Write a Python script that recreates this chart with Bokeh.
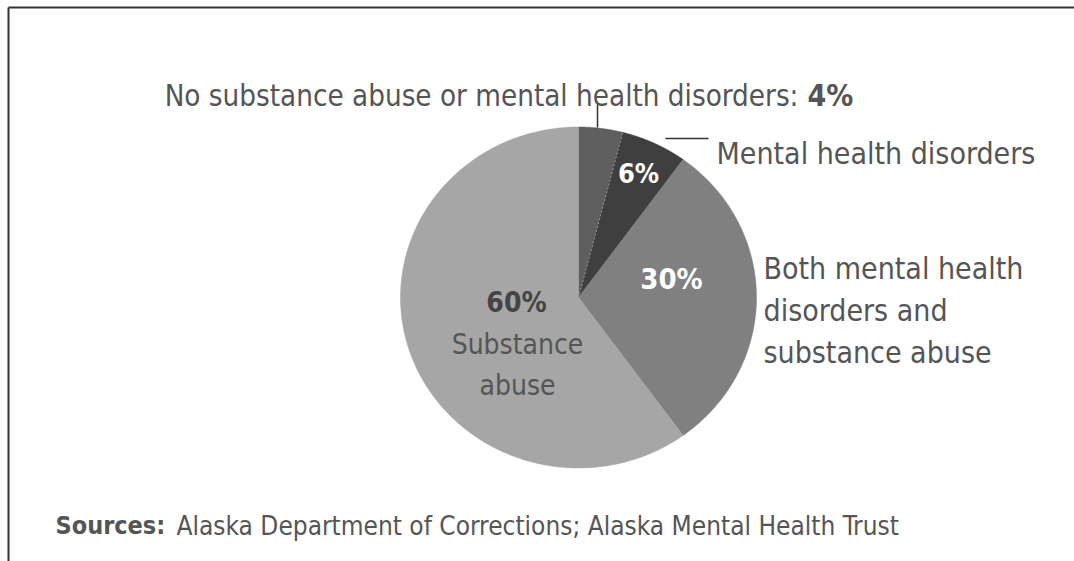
import numpy as np
from bokeh.plotting import figure
from bokeh.models import ColumnDataSource, Range1d
from bokeh.core.properties import value
from bokeh.embed import file_html
from bokeh.resources import INLINE

# ---- data ----
categories = ["No substance abuse or mental health disorders",
              "Mental health disorders",
              "Both mental health disorders and substance abuse",
              "Substance abuse"]
shares = [4, 6, 30, 60]
slice_colors = ["#5f5f5f", "#3f3f3f", "#808080", "#a6a6a6"]
pct_labels = ["4%", "6%", "30%", "60%"]
source_note = "Alaska Department of Corrections; Alaska Mental Health Trust"

W, H = 1074, 561
FONT = "'DejaVu Sans Condensed', 'Roboto Condensed', sans-serif"
TXT = "#555555"

def Y(py):
    return H - py

p = figure(width=W, height=H, output_backend="svg", toolbar_location=None,
           x_range=Range1d(0, W), y_range=Range1d(0, H), min_border=0)
p.axis.visible = False
p.grid.visible = False
p.outline_line_color = None
p.background_fill_color = "white"
p.border_fill_color = "white"

# frame lines (top and left)
p.line([8, W], [Y(7), Y(7)], line_color="#333333", line_width=2)
p.line([8, 8], [Y(7), 0], line_color="#333333", line_width=2)

# ---- pie (slightly elliptical, starting at 12 o'clock, clockwise) ----
cx, cy = 578, Y(297)
rx, ry = 178, 170.5
total = float(sum(shares))
cum = np.concatenate([[0], np.cumsum(shares)]) / total
xs, ys = [], []
for i in range(len(shares)):
    a0 = np.pi / 2 - 2 * np.pi * cum[i]
    a1 = np.pi / 2 - 2 * np.pi * cum[i + 1]
    t = np.linspace(a0, a1, 200)
    xs.append([cx] + list(cx + rx * np.cos(t)) + [cx])
    ys.append([cy] + list(cy + ry * np.sin(t)) + [cy])
src = ColumnDataSource(dict(xs=xs, ys=ys, color=slice_colors, cat=categories))
p.patches("xs", "ys", source=src, fill_color="color", line_color="color", line_width=0.5)

# dashed separator between 4% and 6%
a = np.pi / 2 - 2 * np.pi * cum[1]
p.line([cx, cx + rx * np.cos(a)], [cy, cy + ry * np.sin(a)],
       line_color="#9a9a9a", line_width=1, line_dash="2 2")

# leader lines
p.line([597, 597], [Y(104), Y(127)], line_color="#333333", line_width=1.5)
p.line([665, 708], [Y(138), Y(138)], line_color="#333333", line_width=1.5)

# ---- texts ----
def txt(x, y, s, size, color=TXT, bold=False, align="left", baseline="alphabetic"):
    p.text(x=[x], y=[Y(y)], text=[s], text_font=value(FONT),
           text_font_size=f"{size}px", text_color=color,
           text_font_style="bold" if bold else "normal",
           text_align=align, text_baseline=baseline)

SZ = 30
txt(798, 95, categories[0] + ":", 29.3, align="right")
txt(807, 95, pct_labels[0], 30, bold=True)

txt(716, 153, categories[1], SZ)

txt(763, 268, "Both mental health", SZ)
txt(763, 310, "disorders and", SZ)
txt(763, 352, "substance abuse", SZ)

txt(638, 173, pct_labels[1], 27, color="white", bold=True, align="center", baseline="middle")
txt(671, 278, pct_labels[2], 29, color="white", bold=True, align="center", baseline="middle")

txt(516, 302, pct_labels[3], 28, color="#444444", bold=True, align="center", baseline="middle")
txt(517, 344, "Substance", 28, align="center", baseline="middle")
txt(517, 385, "abuse", 28, align="center", baseline="middle")

txt(55, 525, "Sources:", 25, bold=True)
txt(176, 525, source_note, 26)

open("out.html", "w").write(file_html(p, INLINE))
